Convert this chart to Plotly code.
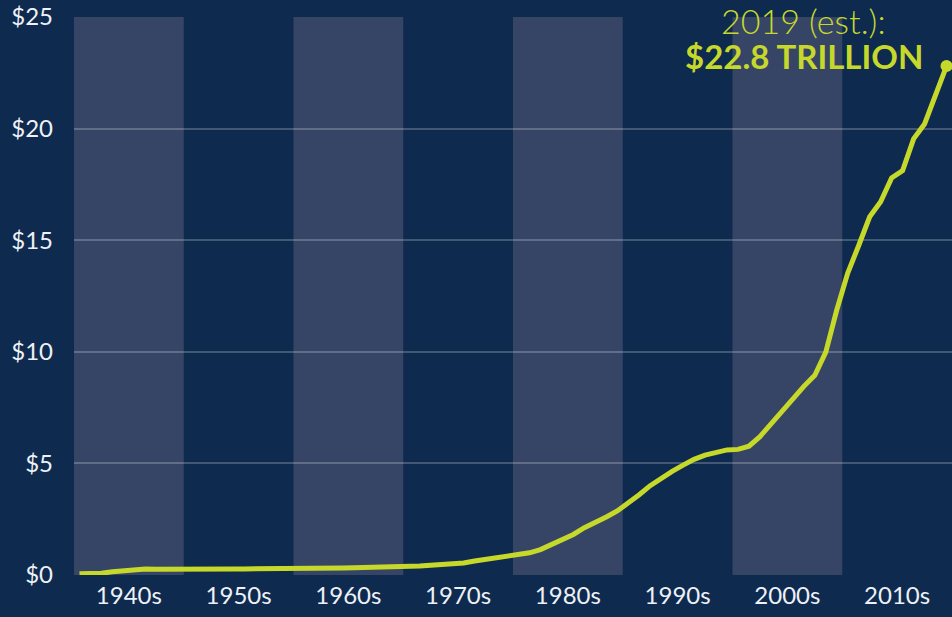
import plotly.graph_objects as go

years = list(range(1940, 2020))
debt_trillions = [
    0.051, 0.058, 0.079, 0.143, 0.204, 0.260, 0.271, 0.257, 0.252, 0.253,
    0.257, 0.255, 0.259, 0.266, 0.271, 0.274, 0.273, 0.271, 0.276, 0.285,
    0.291, 0.293, 0.303, 0.310, 0.316, 0.322, 0.328, 0.340, 0.369, 0.366,
    0.381, 0.408, 0.436, 0.466, 0.484, 0.542, 0.629, 0.706, 0.777, 0.829,
    0.909, 0.995, 1.137, 1.372, 1.565, 1.817, 2.121, 2.346, 2.601, 2.868,
    3.206, 3.598, 4.002, 4.351, 4.643, 4.921, 5.181, 5.369, 5.478, 5.605,
    5.628, 5.769, 6.198, 6.760, 7.355, 7.905, 8.451, 8.951, 9.986, 11.876,
    13.529, 14.764, 16.051, 16.719, 17.794, 18.120, 19.539, 20.206, 21.462, 22.8,
]
decade_starts = [1940, 1950, 1960, 1970, 1980, 1990, 2000, 2010]
decade_labels = ["1940s", "1950s", "1960s", "1970s", "1980s", "1990s", "2000s", "2010s"]
shaded_decades = [1940, 1960, 1980, 2000]
y_ticks = [0, 5, 10, 15, 20, 25]
y_labels = ["$0", "$5", "$10", "$15", "$20", "$25"]

BG = "#0f2a4f"
BAND = "#364566"
LIME = "#c6d92b"
TXT = "#eef1f5"

fig = go.Figure()
fig.add_trace(go.Scatter(
    x=years, y=debt_trillions, mode="lines",
    line=dict(color=LIME, width=5), hoverinfo="skip", cliponaxis=False,
))
fig.add_trace(go.Scatter(
    x=[years[-1]], y=[debt_trillions[-1]], mode="markers",
    marker=dict(color=LIME, size=12), cliponaxis=False, hoverinfo="skip",
))

for d in shaded_decades:
    fig.add_shape(type="rect", xref="x", yref="y", x0=d - 0.5, x1=d + 9.5,
                  y0=0, y1=25, fillcolor=BAND, line=dict(width=0), layer="below")

fig.add_annotation(x=2006.0, y=24.85, xref="x", yref="y", text="2019 (est.):",
                   showarrow=False, xanchor="center", yanchor="middle",
                   font=dict(family="Lato", size=34, color=LIME, weight=300))
fig.add_annotation(x=2006.0, y=23.25, xref="x", yref="y", text="<b>$22.8 TRILLION</b>",
                   showarrow=False, xanchor="center", yanchor="middle",
                   font=dict(family="Lato", size=33, color=LIME))

fig.update_layout(
    width=952, height=617,
    margin=dict(l=74, r=0, t=17, b=42),
    paper_bgcolor=BG, plot_bgcolor=BG,
    showlegend=False,
    font=dict(family="Lato", size=24, color=TXT),
)
fig.update_xaxes(
    range=[1939.5, 2019.5], tickvals=[d + 4.5 for d in decade_starts], ticktext=decade_labels,
    showgrid=False, zeroline=False, showline=False, ticks="",
    tickfont=dict(size=24, color=TXT), ticklabelstandoff=4,
)
fig.update_yaxes(
    range=[0, 25], tickvals=y_ticks, ticktext=y_labels,
    showgrid=True, gridcolor="rgba(255,255,255,0.22)", gridwidth=1.5,
    zeroline=False, showline=False, ticks="", ticklabelstandoff=20,
    tickfont=dict(size=24, color=TXT),
)

fig.write_html("out.html", config={"displayModeBar": False},
               post_script="document.body.style.margin='0';document.body.style.overflow='hidden';")
